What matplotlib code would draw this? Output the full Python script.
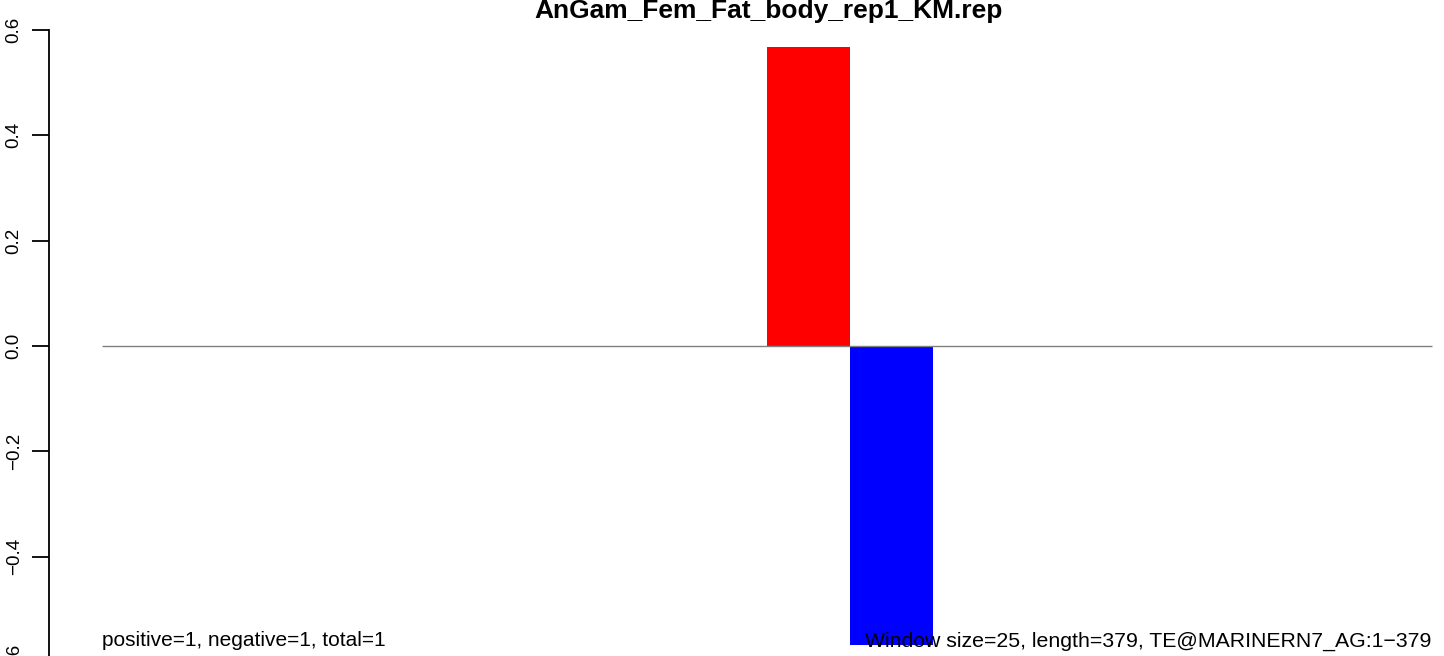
import matplotlib
matplotlib.use("Agg")
import matplotlib.pyplot as plt

plt.rcParams['font.family'] = ['Liberation Sans', 'DejaVu Sans']

TITLE = "AnGam_Fem_Fat_body_rep1_KM.rep"

# per-window scores along the element (window size 25)
positive = [0, 0, 0, 0, 0, 0, 0, 0, 0.568, 0, 0, 0, 0, 0, 0, 0]
negative = [0, 0, 0, 0, 0, 0, 0, 0, 0, -0.568, 0, 0, 0, 0, 0, 0]
yticks = [-0.6, -0.4, -0.2, 0.0, 0.2, 0.4, 0.6]

left_note = "positive=1, negative=1, total=1"
right_note = "Window size=25, length=379, TE@MARINERN7_AG:1\u2212379"

W, H = 1444, 656
fig = plt.figure(figsize=(W / 100, H / 100), dpi=100)
# plot region runs past the right edge, like the R device it came from
ax = fig.add_axes([49 / W, (H - 662) / H, 1436 / W, 632 / H])

n = len(positive)
xs = list(range(n))
ax.bar(xs, positive, width=1, align='edge', color='red', linewidth=0)
ax.bar(xs, negative, width=1, align='edge', color='blue', linewidth=0)
ax.hlines(0, 0, n, color='#808080', linewidth=1)

pad = 0.04 * n
ax.set_xlim(-pad, n + pad)
ax.set_ylim(-0.6, 0.6)

for s in ['top', 'right', 'bottom']:
    ax.spines[s].set_visible(False)
ax.spines['left'].set_linewidth(1.3)
ax.spines['left'].set_bounds(-0.6, 0.6)
ax.set_xticks([])
ax.set_yticks(yticks)
ax.set_yticklabels(["\u22120.6", "\u22120.4", "\u22120.2", "0.0", "0.2", "0.4", "0.6"],
                   rotation=90, va='center', fontsize=13.5)
ax.tick_params(axis='y', length=12, width=1.3, pad=7, direction='out')

ax.text(0, -0.56, left_note, ha='left', va='center', fontsize=15)
ax.text(n, -0.56, right_note, ha='right', va='center', fontsize=15.3, zorder=5)

fig.text(769 / W, 1 - 11 / H, TITLE, ha='center', va='center',
         fontsize=19, fontweight='bold')

fig.savefig("out.png", dpi=100)
